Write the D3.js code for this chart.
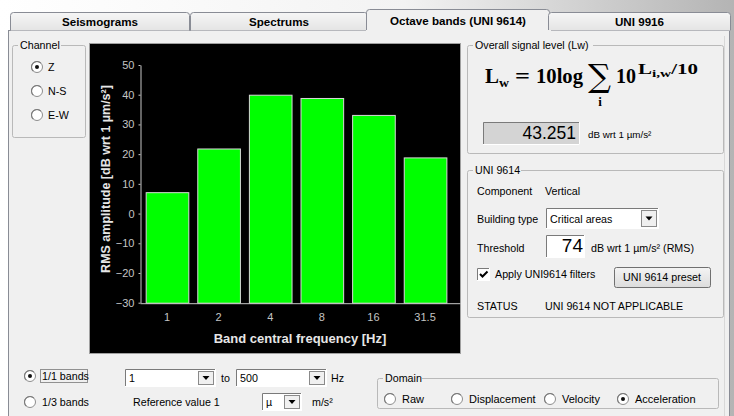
<!DOCTYPE html>
<html><head><meta charset="utf-8">
<script src="https://cdn.jsdelivr.net/npm/d3@7"></script>
<style>body{margin:0;background:#f0f0f0;overflow:hidden}svg{display:block}</style>
</head><body>
<svg id="c" width="734" height="416"></svg>
<script>
// ---------- data ----------
const bands = ["1", "2", "4", "8", "16", "31.5"];
const rmsLevels = [7.2, 21.9, 40.0, 38.9, 33.2, 18.9];
const yTicks = [-30, -20, -10, 0, 10, 20, 30, 40, 50];
const yDomain = [-30, 50];
const tabLabels = ["Seismograms", "Spectrums", "Octave bands (UNI 9614)", "UNI 9916"];
const channels = ["Z", "N-S", "E-W"];
const domains = ["Raw", "Displacement", "Velocity", "Acceleration"];
const overallLevel = "43.251";
const thresholdValue = "74";
const yTitle = "RMS amplitude [dB wrt 1 µm/s²]";
const xTitle = "Band central frequency [Hz]";

const FONT = "'Liberation Sans', Arial, sans-serif";
const GS = 10.7;
const SERIF = "'Liberation Serif', 'DejaVu Serif', serif";
const svg = d3.select("#c");
const defs = svg.append("defs");

function lin(id, vertical, stops) {
  const g = defs.append("linearGradient").attr("id", id)
    .attr("x1", 0).attr("y1", 0).attr("x2", vertical ? 0 : 1).attr("y2", vertical ? 1 : 0);
  stops.forEach(([o, c]) => g.append("stop").attr("offset", o).attr("stop-color", c));
}
lin("topg", false, [[0, "#ffffff"], [0.55, "#f3f3f3"], [1, "#b4b4b4"]]);
lin("tabg", true, [[0, "#f6f6f6"], [1, "#e4e4e4"]]);
lin("btng", true, [[0, "#f4f4f4"], [1, "#dcdcdc"]]);

function text(x, y, s, o = {}) {
  const t = svg.append("text").attr("x", x).attr("y", y).text(s)
    .attr("font-family", o.family || FONT).attr("font-size", o.size || GS)
    .attr("font-weight", o.weight || "normal").attr("fill", o.fill || "#000")
    .attr("text-anchor", o.anchor || "start");
  if (o.len) t.attr("textLength", o.len).attr("lengthAdjust", "spacingAndGlyphs");
  return t;
}
function groupBox(x, y, w, h, label, labelW) {
  svg.append("rect").attr("x", x + .5).attr("y", y + .5).attr("width", w).attr("height", h)
    .attr("rx", 2).attr("fill", "none").attr("stroke", "#b9b9b9");
  svg.append("rect").attr("x", x + 6).attr("y", y - 2).attr("width", labelW).attr("height", 6).attr("fill", "#f0f0f0");
  text(x + 8, y + 4, label);
}
function radio(cx, cy, checked) {
  svg.append("circle").attr("cx", cx).attr("cy", cy).attr("r", 5.5).attr("fill", "#fff").attr("stroke", "#8e8e8e");
  svg.append("path").attr("d", d3.arc()({innerRadius: 5, outerRadius: 6, startAngle: -2.4, endAngle: 0.8}))
    .attr("transform", `translate(${cx},${cy})`).attr("fill", "#7a7a7a");
  if (checked) svg.append("circle").attr("cx", cx).attr("cy", cy).attr("r", 2).attr("fill", "#111");
}
function sunken(x, y, w, h, fill) {
  svg.append("rect").attr("x", x).attr("y", y).attr("width", w).attr("height", h).attr("fill", fill);
  svg.append("path").attr("d", `M${x + .5},${y + h}V${y + .5}H${x + w}`).attr("fill", "none").attr("stroke", "#7a7a7a");
  svg.append("path").attr("d", `M${x + w - .5},${y}V${y + h - .5}H${x}`).attr("fill", "none").attr("stroke", "#ffffff");
}
function combo(x, y, w, h, s) {
  sunken(x, y, w, h, "#fff");
  svg.append("rect").attr("x", x + w - 17.5).attr("y", y + 2.5).attr("width", 15).attr("height", h - 5)
    .attr("fill", "#f0f0f0").attr("stroke", "#8a8a8a");
  const cx = x + w - 10, cy = y + h / 2;
  svg.append("path").attr("d", `M${cx - 3.5},${cy - 2}h7l-3.5,4z`).attr("fill", "#000");
  text(x + 4, y + h / 2 + 4, s);
}
function button(x, y, w, h, s) {
  svg.append("rect").attr("x", x + .5).attr("y", y + .5).attr("width", w).attr("height", h).attr("rx", 2)
    .attr("fill", "url(#btng)").attr("stroke", "#707070");
  text(x + w / 2, y + h / 2 + 4, s, {anchor: "middle"});
}

// ---------- window / tabs ----------
svg.append("rect").attr("width", 734).attr("height", 416).attr("fill", "url(#topg)");
svg.append("rect").attr("x", 8.5).attr("y", 30.5).attr("width", 721).attr("height", 400)
  .attr("fill", "#f0f0f0").attr("stroke", "#898c95");
svg.append("line").attr("x1", 724.5).attr("x2", 724.5).attr("y1", 36).attr("y2", 416).attr("stroke", "#d8d8d8");
const tabEdges = [10, 190, 368, 548, 731];
tabLabels.forEach((t, i) => {
  const sel = i === 2;
  const x0 = tabEdges[i] - (sel ? 2 : 0) + .5, x1 = tabEdges[i + 1] + (sel ? 2 : 0) - .5;
  const top = sel ? 9.5 : 12.5, bot = sel ? 31.5 : 30.5;
  svg.append("path").attr("d", `M${x0},${bot}V${top + 3}Q${x0},${top} ${x0 + 3},${top}H${x1 - 3}Q${x1},${top} ${x1},${top + 3}V${bot}`)
    .attr("fill", sel ? "#f0f0f0" : "url(#tabg)").attr("stroke", "#898c95");
  text((tabEdges[i] + tabEdges[i + 1]) / 2, sel ? 25 : 26, t, {weight: "bold", anchor: "middle", size: 11.6});
});
svg.append("line").attr("x1", 366).attr("x2", 551).attr("y1", 31).attr("y2", 31).attr("stroke", "#f0f0f0").attr("stroke-width", 2);

// ---------- channel ----------
groupBox(12, 45, 73, 92, "Channel", 43);
channels.forEach((c, i) => {
  radio(37, 67 + i * 24, i === 0);
  text(48, 71 + i * 24, c);
});

// ---------- chart ----------
svg.append("rect").attr("x", 89.5).attr("y", 43.5).attr("width", 371).attr("height", 310)
  .attr("fill", "#000").attr("stroke", "#a0a0a0");
const x = d3.scaleBand().domain(bands).range([140, 460])
  .paddingInner(0.174).paddingOuter(0.187).align(0.294);
const y = d3.scaleLinear().domain(yDomain).range([302.7, 65]);
const plot = svg.append("g");
plot.selectAll("rect.bar").data(bands).join("rect").attr("class", "bar")
  .attr("x", d => x(d) + .5).attr("width", x.bandwidth())
  .attr("y", (d, i) => y(rmsLevels[i]) + .5)
  .attr("height", (d, i) => y(yDomain[0]) - y(rmsLevels[i]))
  .attr("fill", "#00ff00").attr("stroke", "#d8d8d8");
const yAxis = plot.append("g").attr("transform", "translate(140.5,0)")
  .call(d3.axisLeft(y).tickValues(yTicks).tickSize(2).tickSizeOuter(0).tickPadding(4));
const xAxis = plot.append("g").attr("transform", `translate(0,${y(yDomain[0]) + .5})`)
  .call(d3.axisBottom(x).tickSize(0).tickPadding(10.5));
[yAxis, xAxis].forEach(a => {
  a.selectAll("path,line").attr("stroke", "#c8c8c8");
  a.selectAll("text").attr("fill", "#c4c4c4").attr("font-family", FONT).attr("font-size", 11);
});
plot.append("text").attr("transform", "translate(109.5,179) rotate(-90)").attr("text-anchor", "middle")
  .attr("font-family", FONT).attr("font-size", 12.5).attr("font-weight", "bold").attr("fill", "#e6e6e6").text(yTitle);
plot.append("text").attr("x", 300).attr("y", 343).attr("text-anchor", "middle")
  .attr("font-family", FONT).attr("font-size", 13).attr("font-weight", "bold").attr("fill", "#e6e6e6").text(xTitle);

// ---------- overall level ----------
groupBox(467, 45, 256, 108, "Overall signal level (Lw)", 120);
const f = {family: SERIF, weight: "bold", size: 21};
text(485, 83, "L", {...f, len: 14});
text(499, 87, "w", {...f, size: 13, len: 10});
text(515, 83, "=", {...f, len: 15});
text(536, 83, "10log", {...f, len: 47});
svg.append("text").attr("x", 588).attr("y", 87).text("∑").attr("font-family", "'DejaVu Serif', serif")
  .attr("font-size", 32).attr("fill", "#000").attr("textLength", 23).attr("lengthAdjust", "spacingAndGlyphs");
text(600, 106, "i", {...f, size: 13, anchor: "middle"});
text(616, 83, "10", {...f, len: 20});
const ex = svg.append("text").attr("x", 638).attr("y", 74).attr("font-family", SERIF).attr("font-weight", "bold")
  .attr("font-size", 15).attr("textLength", 60).attr("lengthAdjust", "spacingAndGlyphs");
ex.append("tspan").text("L");
ex.append("tspan").attr("dy", 3).attr("font-size", 11).text("i,w");
ex.append("tspan").attr("dy", -3).text("/10");
sunken(483, 122, 97, 23, "#d4d4d4");
text(576, 139, overallLevel, {size: 17.5, anchor: "end"});
text(588, 138, "dB wrt 1 µm/s²", {size: 9.8});

// ---------- UNI 9614 ----------
groupBox(467, 170, 256, 147, "UNI 9614", 48);
text(477, 195, "Component");
text(545, 195, "Vertical");
text(477, 223, "Building type");
combo(546, 208, 113, 21, "Critical areas");
text(477, 252, "Threshold");
sunken(546, 235, 39, 23, "#fff");
text(583, 252, thresholdValue, {size: 19, anchor: "end"});
text(591, 252, "dB wrt 1 µm/s² (RMS)");
sunken(477, 268, 13, 13, "#fff");
svg.append("path").attr("d", "M480,274l2.5,2.5l5,-5").attr("fill", "none").attr("stroke", "#000").attr("stroke-width", 2);
text(495, 278, "Apply UNI9614 filters");
button(614, 267, 96, 20, "UNI 9614 preset");
text(477, 310, "STATUS");
text(545, 310, "UNI 9614 NOT APPLICABLE");

// ---------- bottom controls ----------
radio(30, 376, true);
text(42, 380, "1/1 bands");
svg.append("rect").attr("x", 40.5).attr("y", 369.5).attr("width", 47).attr("height", 13)
  .attr("fill", "none").attr("stroke", "#333").attr("stroke-dasharray", "1,1");
radio(30, 402, false);
text(42, 406, "1/3 bands");
combo(125, 369, 91, 18, "1");
text(221, 382, "to");
combo(236, 369, 91, 18, "500");
text(331, 382, "Hz");
text(133, 406, "Reference value  1");
combo(262, 393, 40, 18, "µ");
text(312, 406, "m/s²");
groupBox(377, 378, 341, 30, "Domain", 39);
const dx = [390, 457, 550, 623];
domains.forEach((d, i) => {
  radio(dx[i], 399, i === 3);
  text(dx[i] + 12, 403, d, {size: 11});
});
</script>
</body></html>
